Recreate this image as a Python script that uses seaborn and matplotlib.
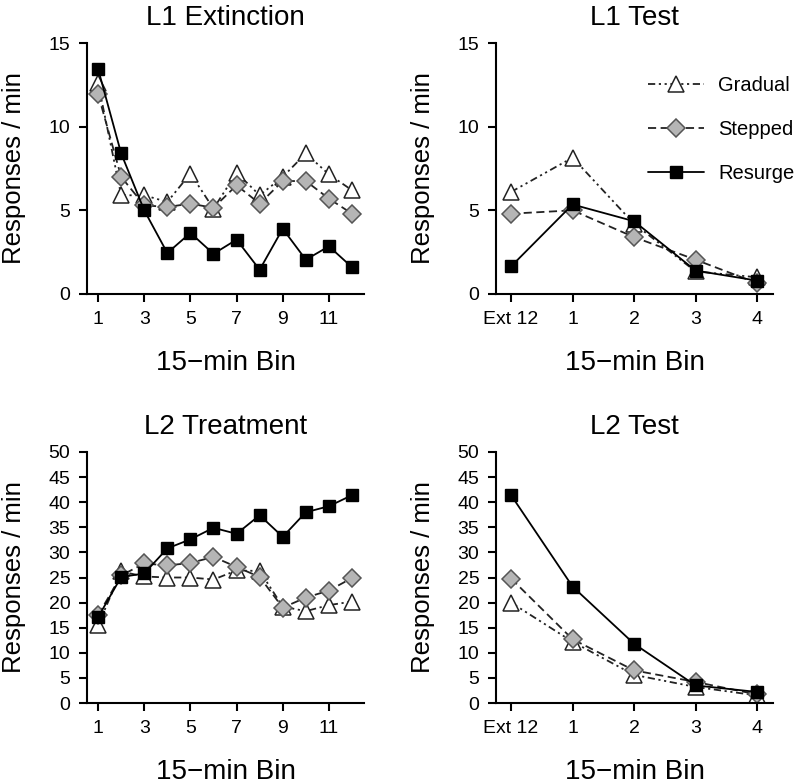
import numpy as np
import pandas as pd
import matplotlib
matplotlib.use("Agg")
import matplotlib.pyplot as plt
import seaborn as sns

sns.set_style("ticks")
plt.rcParams['font.family'] = ['Liberation Sans', 'DejaVu Sans']
plt.rcParams['text.color'] = 'black'
plt.rcParams['axes.labelcolor'] = 'black'
plt.rcParams['xtick.color'] = 'black'
plt.rcParams['ytick.color'] = 'black'
plt.rcParams['axes.edgecolor'] = 'black'

# ---- data ----
ext_bins = [1, 2, 3, 4, 5, 6, 7, 8, 9, 10, 11, 12]
test_pos = [0, 1, 2, 3, 4]
test_labels = ["Ext 12", "1", "2", "3", "4"]
series = ["Gradual", "Stepped", "Resurge"]

l1_ext_gradual = [12.6, 5.9, 5.9, 5.5, 7.2, 5.1, 7.25, 5.9, 7.0, 8.4, 7.15, 6.2]
l1_ext_stepped = [11.95, 7.0, 5.3, 5.2, 5.4, 5.15, 6.5, 5.4, 6.75, 6.75, 5.7, 4.8]
l1_ext_resurge = [13.45, 8.4, 5.0, 2.45, 3.65, 2.4, 3.25, 1.45, 3.9, 2.05, 2.85, 1.6]

l1_test_gradual = [6.1, 8.15, 4.2, 1.35, 1.0]
l1_test_stepped = [4.8, 5.0, 3.4, 2.05, 0.65]
l1_test_resurge = [1.65, 5.35, 4.35, 1.4, 0.8]

l2_trt_gradual = [15.5, 26.2, 25.2, 25.0, 25.0, 24.6, 26.4, 26.3, 19.2, 18.3, 19.5, 20.2]
l2_trt_stepped = [17.5, 25.4, 27.8, 27.4, 27.9, 29.1, 27.1, 25.1, 19.0, 21.0, 22.4, 24.9]
l2_trt_resurge = [17.1, 25.1, 25.8, 30.8, 32.6, 34.9, 33.7, 37.4, 33.1, 38.0, 39.2, 41.4]

l2_test_gradual = [20.0, 12.2, 5.6, 3.2, 1.5]
l2_test_stepped = [24.8, 12.7, 6.5, 4.2, 1.7]
l2_test_resurge = [41.4, 23.2, 11.8, 3.5, 2.2]

styles = {
    "Gradual": dict(marker='^', markersize=12, markerfacecolor='white', markeredgecolor='#222222',
                    markeredgewidth=1.1, color='#222222', linestyle=(0, (4, 2, 1.2, 2, 1.2, 2)), linewidth=1.3),
    "Stepped": dict(marker='D', markersize=9, markerfacecolor='#b5b5b5', markeredgecolor='#555555',
                    markeredgewidth=1.1, color='#222222', linestyle=(0, (4.5, 2.5)), linewidth=1.3),
    "Resurge": dict(marker='s', markersize=9, markerfacecolor='black', markeredgecolor='black',
                    markeredgewidth=1.0, color='black', linestyle='-', linewidth=1.3),
}

fig = plt.figure(figsize=(8.0, 7.79), dpi=100)
W, H = 800, 779
def axrect(l, r, t, b):
    return [l / W, (H - b) / H, (r - l) / W, (b - t) / H]

ax1 = fig.add_axes(axrect(87, 364, 43, 294))
ax2 = fig.add_axes(axrect(496, 773, 43, 294))
ax3 = fig.add_axes(axrect(87, 364, 452, 703))
ax4 = fig.add_axes(axrect(496, 773, 452, 703))

panels = [
    (ax1, ext_bins, [l1_ext_gradual, l1_ext_stepped, l1_ext_resurge], "L1 Extinction"),
    (ax2, test_pos, [l1_test_gradual, l1_test_stepped, l1_test_resurge], "L1 Test"),
    (ax3, ext_bins, [l2_trt_gradual, l2_trt_stepped, l2_trt_resurge], "L2 Treatment"),
    (ax4, test_pos, [l2_test_gradual, l2_test_stepped, l2_test_resurge], "L2 Test"),
]

for ax, xs, ys_list, title in panels:
    for name, ys in zip(series, ys_list):
        df = pd.DataFrame({"x": xs, "y": ys})
        sns.lineplot(data=df, x="x", y="y", ax=ax, label=name, clip_on=False, **styles[name])
    ax.set_title(title, fontsize=20, pad=13)
    ax.set_xlabel("15\u2212min Bin", fontsize=20, labelpad=16)
    ax.set_ylabel("Responses / min", fontsize=18.5, labelpad=16)
    for s in ["top", "right"]:
        ax.spines[s].set_visible(False)
    for s in ["left", "bottom"]:
        ax.spines[s].set_linewidth(1.5)
    ax.tick_params(axis='both', direction='out', length=6, width=1.5, labelsize=14, pad=6)
    if ax.get_legend() is not None:
        ax.get_legend().remove()

for ax in (ax1, ax3):
    ax.set_xlim(0.52, 12.52)
    ax.set_xticks([1, 3, 5, 7, 9, 11])
for ax in (ax2, ax4):
    ax.set_xlim(-0.245, 4.26)
    ax.set_xticks(test_pos)
    ax.set_xticklabels(test_labels)
for ax in (ax1, ax2):
    ax.set_ylim(0, 15)
    ax.set_yticks([0, 5, 10, 15])
for ax in (ax3, ax4):
    ax.set_ylim(0, 50)
    ax.set_yticks(list(range(0, 51, 5)))

handles, labels = ax2.get_legend_handles_labels()
leg = fig.legend(handles[:3], labels[:3], loc='upper left', bbox_to_anchor=(648 / W, 1 - 76 / H),
                 frameon=False, fontsize=14.5, handlelength=2.8, handletextpad=0.7, labelspacing=1.25,
                 borderpad=0, borderaxespad=0)

fig.savefig("out.png", dpi=100)
